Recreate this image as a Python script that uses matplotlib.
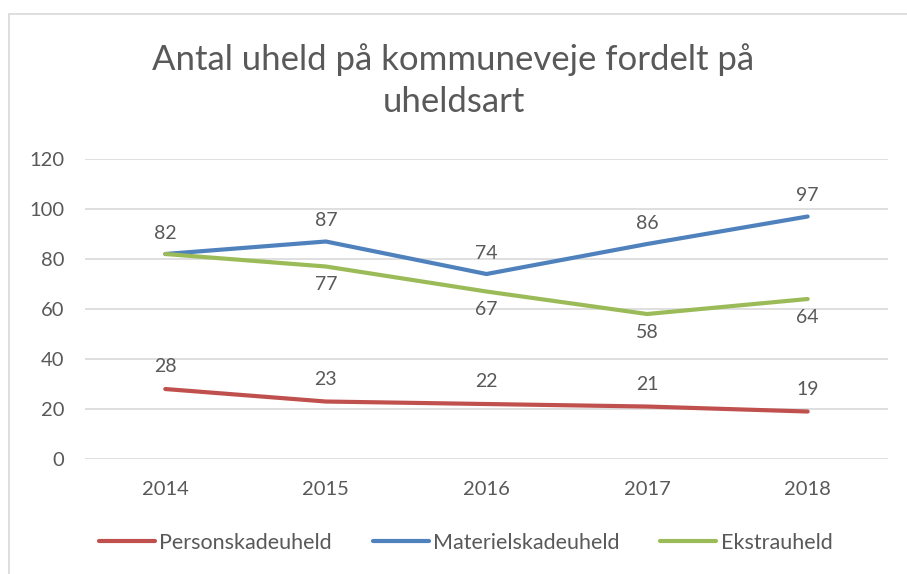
import matplotlib.pyplot as plt
import matplotlib.patches as patches

years = ['2014', '2015', '2016', '2017', '2018']
personskade = [28, 23, 22, 21, 19]
materielskade = [82, 87, 74, 86, 97]
ekstra = [82, 77, 67, 58, 64]

plt.rcParams['font.family'] = ['Lato', 'DejaVu Sans']
txt = '#595959'

fig = plt.figure(figsize=(9.07, 5.74), dpi=100)
ax = fig.add_axes([0.0937, 0.2003, 0.8853, 0.5227])

# chart frame (only left and top visible in the reference)
fig.patches.append(patches.Rectangle((8.5 / 907, -0.1), 1.2, 1 - 14.5 / 574 + 0.1,
                                     transform=fig.transFigure, fill=False,
                                     edgecolor='#D9D9D9', linewidth=1.2))

x = range(len(years))
ax.plot(x, personskade, color='#C0504D', lw=3, solid_capstyle='round', label='Personskadeuheld')
ax.plot(x, materielskade, color='#4F81BD', lw=3, solid_capstyle='round', label='Materielskadeuheld')
ax.plot(x, ekstra, color='#9BBB59', lw=3, solid_capstyle='round', label='Ekstrauheld')

for i, v in enumerate(personskade):
    ax.annotate(str(v), (i, v), xytext=(0, 16), textcoords='offset points',
                ha='center', va='center', fontsize=14, color=txt)
for i, v in enumerate(materielskade):
    ax.annotate(str(v), (i, v), xytext=(0, 15), textcoords='offset points',
                ha='center', va='center', fontsize=14, color=txt)
for i, v in enumerate(ekstra):
    if i == 0:
        continue
    ax.annotate(str(v), (i, v), xytext=(0, -13), textcoords='offset points',
                ha='center', va='center', fontsize=14, color=txt)

ax.set_xlim(-0.5, 4.5)
ax.set_ylim(0, 120)
ax.set_yticks(range(0, 121, 20))
ax.set_xticks(list(x))
ax.set_xticklabels(years)
ax.grid(axis='y', color='#D9D9D9', lw=1.2)
ax.set_axisbelow(True)
for s in ax.spines.values():
    s.set_visible(False)
ax.tick_params(length=0, labelsize=14.5, labelcolor=txt)
ax.tick_params(axis='y', pad=15)
ax.tick_params(axis='x', pad=16)

fig.text(0.5, 1 - 80.5 / 574, 'Antal uheld på kommuneveje fordelt på\nuheldsart', ha='center', va='center',
         fontsize=25, color=txt, linespacing=1.4)

ax.legend(loc='center', bbox_to_anchor=(465.5 / 907, 1 - 543 / 574), bbox_transform=fig.transFigure,
          ncol=3, frameon=False, fontsize=15.5, labelcolor=txt, handlelength=2.6,
          handletextpad=0.2, columnspacing=1.9)

fig.savefig('out.png', dpi=100)
